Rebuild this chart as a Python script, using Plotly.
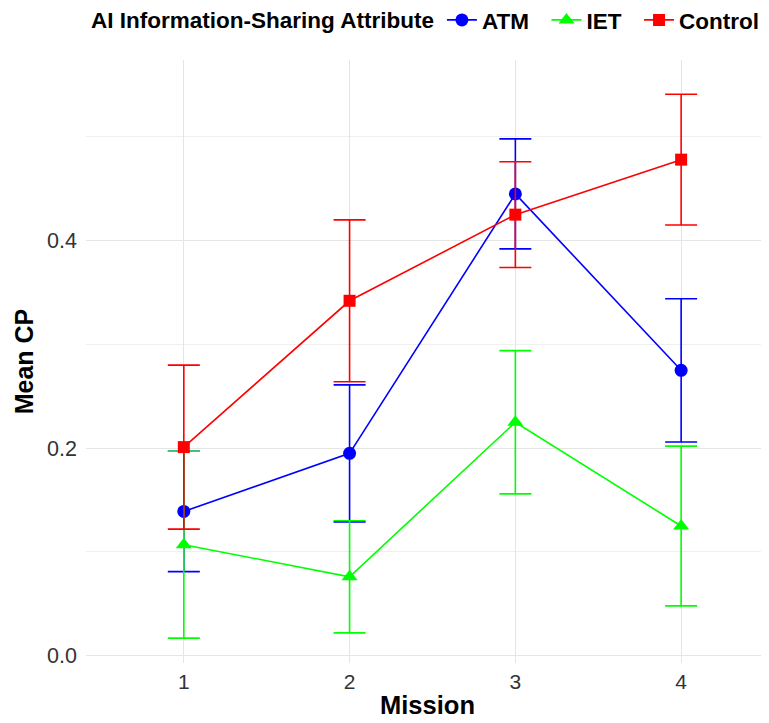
import plotly.graph_objects as go

missions = [1, 2, 3, 4]
groups = ["ATM", "IET", "Control"]
atm_mean = [0.139, 0.195, 0.445, 0.275]
atm_se = [0.058, 0.066, 0.053, 0.069]
iet_mean = [0.107, 0.076, 0.225, 0.125]
iet_se = [0.090, 0.054, 0.069, 0.077]
ctrl_mean = [0.201, 0.342, 0.425, 0.478]
ctrl_se = [0.079, 0.078, 0.051, 0.063]
y_ticks = [0, 0.2, 0.4]
y_ticklabels = ["0.0", "0.2", "0.4"]
y_minor = [0.1, 0.3, 0.5]

colors = {"ATM": "#0000FF", "IET": "#00FF00", "Control": "#FF0000"}
symbols = {"ATM": "circle", "IET": "triangle-up", "Control": "square"}
sizes = {"ATM": 13, "IET": 14, "Control": 12}
data = {"ATM": (atm_mean, atm_se), "IET": (iet_mean, iet_se), "Control": (ctrl_mean, ctrl_se)}

fig = go.Figure()
for g in groups:
    m, se = data[g]
    fig.add_trace(go.Scatter(
        x=missions, y=m, name="<b>" + g + "</b>\u00a0\u00a0", mode="lines+markers",
        line=dict(color=colors[g], width=1.6),
        marker=dict(symbol=symbols[g], size=sizes[g], color=colors[g]),
        error_y=dict(type="data", array=se, visible=True, color=colors[g],
                     thickness=1.6, width=16),
    ))

fig.update_layout(
    width=769, height=723,
    margin=dict(l=78, r=8, t=52, b=68),
    plot_bgcolor="white", paper_bgcolor="white",
    font=dict(family="Liberation Sans, Arial, sans-serif", color="#000000"),
    legend=dict(
        orientation="h", xanchor="left", x=0.025, yref="container", y=0.983, yanchor="middle",
        title=dict(text="<b>AI Information-Sharing Attribute</b>", side="left",
                   font=dict(size=22.5, color="black")),
        font=dict(size=22.5, color="black"),
        itemwidth=30, tracegroupgap=0,
    ),
    xaxis=dict(
        range=[0.41, 4.53], tickvals=missions, ticktext=[str(v) for v in missions],
        showgrid=True, gridcolor="#e5e5e5", gridwidth=1.2, zeroline=False,
        showline=False, ticks="", ticklabelstandoff=4,
        tickfont=dict(size=21, color="#333333"),
        title=dict(text="<b>Mission</b>", font=dict(size=25.5, color="black"), standoff=4),
    ),
    yaxis=dict(
        range=[-0.007, 0.574], tickvals=y_ticks, ticktext=y_ticklabels,
        showgrid=True, gridcolor="#e5e5e5", gridwidth=1.2, zeroline=False,
        showline=False, ticks="", ticklabelstandoff=8,
        minor=dict(tickvals=y_minor, showgrid=True, gridcolor="#efefef", gridwidth=1),
        tickfont=dict(size=21.5, color="#333333"),
        title=dict(text="<b>Mean CP</b>", font=dict(size=25, color="black"), standoff=6),
    ),
)

fig.write_html("out.html")
